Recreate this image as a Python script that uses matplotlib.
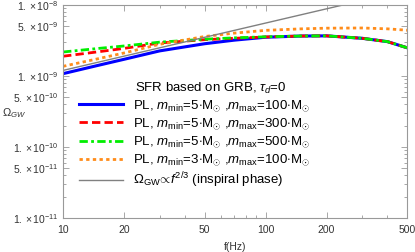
import numpy as np
import matplotlib
matplotlib.use('Agg')
import matplotlib.pyplot as plt
from matplotlib.ticker import FixedLocator, FixedFormatter, NullFormatter

plt.rcParams['font.family'] = ['Liberation Sans', 'DejaVu Sans']
plt.rcParams['mathtext.fontset'] = 'custom'
plt.rcParams['mathtext.rm'] = 'Liberation Sans'
plt.rcParams['mathtext.it'] = 'Liberation Sans:italic'
plt.rcParams['mathtext.bf'] = 'Liberation Sans:bold'

# frequency grid (Hz)
freq = [10, 15, 20, 30, 50, 70, 100, 150, 200, 300, 400, 500]

# Omega_GW for each mass function
pl_5_100 = [1.08e-9, 1.42e-9, 1.72e-9, 2.26e-9, 2.85e-9, 3.2e-9, 3.52e-9, 3.66e-9, 3.68e-9, 3.4e-9, 3.05e-9, 2.5e-9]
pl_5_300 = [1.9e-9, 2.2e-9, 2.45e-9, 2.92e-9, 3.25e-9, 3.4e-9, 3.55e-9, 3.66e-9, 3.68e-9, 3.4e-9, 3.05e-9, 2.5e-9]
pl_5_500 = [2.18e-9, 2.45e-9, 2.65e-9, 3.0e-9, 3.3e-9, 3.45e-9, 3.57e-9, 3.66e-9, 3.68e-9, 3.4e-9, 3.05e-9, 2.5e-9]
pl_3_100 = [1.37e-9, 1.76e-9, 2.11e-9, 2.8e-9, 3.6e-9, 4.02e-9, 4.4e-9, 4.62e-9, 4.72e-9, 4.75e-9, 4.62e-9, 4.42e-9]

# inspiral reference line (straight in log-log)
insp_f = [10, 500]
insp_omega = [1.2e-9, 1.63e-8]

labels = [r'PL, $m_{\rm min}$=5$\cdot$M$_{\odot}$ ,$m_{\rm max}$=100$\cdot$M$_{\odot}$',
          r'PL, $m_{\rm min}$=5$\cdot$M$_{\odot}$ ,$m_{\rm max}$=300$\cdot$M$_{\odot}$',
          r'PL, $m_{\rm min}$=5$\cdot$M$_{\odot}$ ,$m_{\rm max}$=500$\cdot$M$_{\odot}$',
          r'PL, $m_{\rm min}$=3$\cdot$M$_{\odot}$ ,$m_{\rm max}$=100$\cdot$M$_{\odot}$',
          r'$\Omega_{\rm GW}\!\propto\!f^{2/3}$ (inspiral phase)']

xticks = [10, 20, 50, 100, 200, 500]
yticks = [1e-11, 5e-11, 1e-10, 5e-10, 1e-9, 5e-9, 1e-8]
yticklabels = [r'$1.\times10^{-11}$', r'$5.\times10^{-11}$', r'$1.\times10^{-10}$',
               r'$5.\times10^{-10}$', r'$1.\times10^{-9}$', r'$5.\times10^{-9}$',
               r'$1.\times10^{-8}$']

fig = plt.figure(figsize=(4.15, 2.52), dpi=100)
ax = fig.add_axes([0.152, 0.135, 0.829, 0.845])

l1, = ax.plot(freq, pl_5_100, '-', color='#0000ff', lw=2.2)
l2, = ax.plot(freq, pl_5_300, '--', color='#ff0000', lw=2.0, dashes=(3, 1.5))
l3, = ax.plot(freq, pl_5_500, '-.', color='#00ee00', lw=2.0, dashes=(3, 1.2, 1, 1.2))
l4, = ax.plot(freq, pl_3_100, ':', color='#ff8c1a', lw=2.0, dashes=(1.2, 1.2))
l5, = ax.plot(insp_f, insp_omega, '-', color='#808080', lw=1.0)

ax.set_xscale('log')
ax.set_yscale('log')
ax.set_xlim(10, 500)
ax.set_ylim(1e-11, 1e-8)

ax.xaxis.set_major_locator(FixedLocator(xticks))
ax.xaxis.set_major_formatter(FixedFormatter([str(t) for t in xticks]))
ax.xaxis.set_minor_formatter(NullFormatter())
ax.yaxis.set_major_locator(FixedLocator(yticks))
ax.yaxis.set_major_formatter(FixedFormatter(yticklabels))
ax.yaxis.set_minor_locator(FixedLocator([m * 10.0**e for e in (-11, -10, -9) for m in range(2, 10) if m != 5]))
ax.yaxis.set_minor_formatter(NullFormatter())

for s in ax.spines.values():
    s.set_color('#999999')
    s.set_linewidth(0.8)
ax.tick_params(which='both', direction='in', top=True, right=True, color='#999999',
               labelsize=7.5, labelcolor='#333333', width=0.6)
ax.tick_params(which='major', length=4)
ax.tick_params(which='minor', length=2)
ax.tick_params(axis='x', pad=5)

ax.set_xlabel('f(Hz)', fontsize=7.5, color='#333333', labelpad=5)
fig.text(0.034, 0.552, r'$\Omega_{GW}$', fontsize=8, color='#333333', ha='center', va='center')

ax.text(0.209, 0.606, r'SFR based on GRB, $\tau_d$=0', transform=ax.transAxes,
        fontsize=9.5, ha='left', va='center')
ax.legend([l1, l2, l3, l4, l5], labels, loc='upper left', bbox_to_anchor=(0.045, 0.563),
          frameon=False, fontsize=9.5, handlelength=3.4, handletextpad=0.75,
          labelspacing=0.18, borderpad=0, borderaxespad=0)

fig.savefig('out.png', dpi=100)
